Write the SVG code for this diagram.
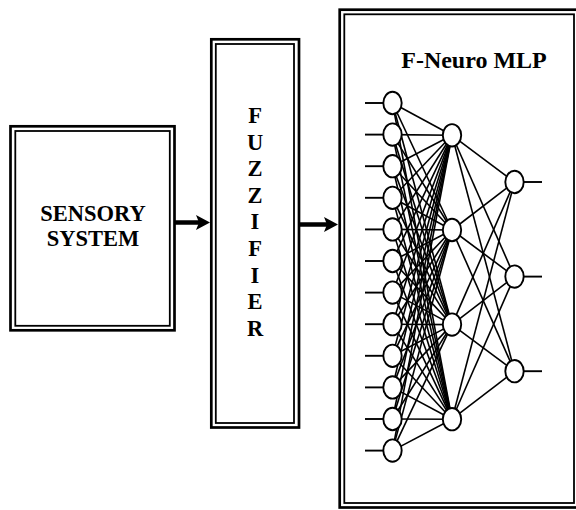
<svg xmlns="http://www.w3.org/2000/svg" width="576" height="510" viewBox="0 0 576 510">
<style>
.outer{fill:none;stroke:#000;stroke-width:2.7}
.inner{fill:none;stroke:#000;stroke-width:1.8}
.lbl{font-family:"Liberation Serif","Times New Roman",serif;font-weight:bold;fill:#000;text-anchor:middle}
.arrow{stroke:#000;stroke-width:4.5;fill:none}
.conn{stroke:#000;stroke-width:1.6}
.stub{stroke:#000;stroke-width:1.9}
.neuron{fill:#fff;stroke:#000;stroke-width:1.9}
</style>
<defs>
<marker id="ah" markerUnits="userSpaceOnUse" markerWidth="14" markerHeight="16" refX="7" refY="7.5" orient="auto" viewBox="0 0 14 15">
<path d="M0,0 L14,7.5 L0,15 L3,7.5 Z" fill="#000"/>
</marker>
</defs>
<rect width="576" height="510" fill="#fff"/>

<g id="sensory">
<rect class="outer" x="10.5" y="126.3" width="164" height="204"/>
<rect class="inner" x="15.3" y="131" width="154.5" height="194.8"/>
<text class="lbl" x="93" y="220.5" font-size="22.5">SENSORY</text>
<text class="lbl" x="93" y="246" font-size="22.5">SYSTEM</text>
</g>

<g id="fuzzifier">
<rect class="outer" x="211.3" y="39.3" width="87.7" height="388.2"/>
<rect class="inner" x="215.8" y="44" width="78.2" height="379"/>
<g class="lbl" font-size="22.5">
<text x="255" y="123">F</text>
<text x="255" y="149.6">U</text>
<text x="255" y="176.2">Z</text>
<text x="255" y="202.8">Z</text>
<text x="255" y="229.4">I</text>
<text x="255" y="256">F</text>
<text x="255" y="282.6">I</text>
<text x="255" y="309.2">E</text>
<text x="255" y="335.8">R</text>
</g>
</g>

<g id="mlp">
<rect class="outer" x="339.7" y="9.7" width="238.8" height="497.8"/>
<rect class="inner" x="344.3" y="14.3" width="229.7" height="488.7"/>
<text class="lbl" x="474" y="68" font-size="24">F-Neuro MLP</text>
</g>

<g id="connectors">
<line class="arrow" x1="175" y1="222.5" x2="203" y2="222.5" marker-end="url(#ah)"/>
<line class="arrow" x1="300" y1="224.5" x2="331" y2="224.5" marker-end="url(#ah)"/>
<g class="stub">
<line x1="365" y1="103" x2="384" y2="103"/>
<line x1="365" y1="134.6" x2="384" y2="134.6"/>
<line x1="365" y1="166.2" x2="384" y2="166.2"/>
<line x1="365" y1="197.8" x2="384" y2="197.8"/>
<line x1="365" y1="229.4" x2="384" y2="229.4"/>
<line x1="365" y1="261" x2="384" y2="261"/>
<line x1="365" y1="292.6" x2="384" y2="292.6"/>
<line x1="365" y1="324.2" x2="384" y2="324.2"/>
<line x1="365" y1="355.8" x2="384" y2="355.8"/>
<line x1="365" y1="387.4" x2="384" y2="387.4"/>
<line x1="365" y1="419" x2="384" y2="419"/>
<line x1="365" y1="450.6" x2="384" y2="450.6"/>
<line x1="523" y1="182" x2="542" y2="182"/>
<line x1="523" y1="276.6" x2="542" y2="276.6"/>
<line x1="523" y1="371.2" x2="542" y2="371.2"/>
</g>
<g class="conn">
<line x1="392.5" y1="103" x2="452" y2="135.3"/><line x1="392.5" y1="103" x2="452" y2="230"/><line x1="392.5" y1="103" x2="452" y2="324.6"/><line x1="392.5" y1="103" x2="452" y2="419.2"/>
<line x1="392.5" y1="134.6" x2="452" y2="135.3"/><line x1="392.5" y1="134.6" x2="452" y2="230"/><line x1="392.5" y1="134.6" x2="452" y2="324.6"/><line x1="392.5" y1="134.6" x2="452" y2="419.2"/>
<line x1="392.5" y1="166.2" x2="452" y2="135.3"/><line x1="392.5" y1="166.2" x2="452" y2="230"/><line x1="392.5" y1="166.2" x2="452" y2="324.6"/><line x1="392.5" y1="166.2" x2="452" y2="419.2"/>
<line x1="392.5" y1="197.8" x2="452" y2="135.3"/><line x1="392.5" y1="197.8" x2="452" y2="230"/><line x1="392.5" y1="197.8" x2="452" y2="324.6"/><line x1="392.5" y1="197.8" x2="452" y2="419.2"/>
<line x1="392.5" y1="229.4" x2="452" y2="135.3"/><line x1="392.5" y1="229.4" x2="452" y2="230"/><line x1="392.5" y1="229.4" x2="452" y2="324.6"/><line x1="392.5" y1="229.4" x2="452" y2="419.2"/>
<line x1="392.5" y1="261" x2="452" y2="135.3"/><line x1="392.5" y1="261" x2="452" y2="230"/><line x1="392.5" y1="261" x2="452" y2="324.6"/><line x1="392.5" y1="261" x2="452" y2="419.2"/>
<line x1="392.5" y1="292.6" x2="452" y2="135.3"/><line x1="392.5" y1="292.6" x2="452" y2="230"/><line x1="392.5" y1="292.6" x2="452" y2="324.6"/><line x1="392.5" y1="292.6" x2="452" y2="419.2"/>
<line x1="392.5" y1="324.2" x2="452" y2="135.3"/><line x1="392.5" y1="324.2" x2="452" y2="230"/><line x1="392.5" y1="324.2" x2="452" y2="324.6"/><line x1="392.5" y1="324.2" x2="452" y2="419.2"/>
<line x1="392.5" y1="355.8" x2="452" y2="135.3"/><line x1="392.5" y1="355.8" x2="452" y2="230"/><line x1="392.5" y1="355.8" x2="452" y2="324.6"/><line x1="392.5" y1="355.8" x2="452" y2="419.2"/>
<line x1="392.5" y1="387.4" x2="452" y2="135.3"/><line x1="392.5" y1="387.4" x2="452" y2="230"/><line x1="392.5" y1="387.4" x2="452" y2="324.6"/><line x1="392.5" y1="387.4" x2="452" y2="419.2"/>
<line x1="392.5" y1="419" x2="452" y2="135.3"/><line x1="392.5" y1="419" x2="452" y2="230"/><line x1="392.5" y1="419" x2="452" y2="324.6"/><line x1="392.5" y1="419" x2="452" y2="419.2"/>
<line x1="392.5" y1="450.6" x2="452" y2="135.3"/><line x1="392.5" y1="450.6" x2="452" y2="230"/><line x1="392.5" y1="450.6" x2="452" y2="324.6"/><line x1="392.5" y1="450.6" x2="452" y2="419.2"/>
<line x1="452" y1="135.3" x2="514.5" y2="182"/><line x1="452" y1="135.3" x2="514.5" y2="276.6"/><line x1="452" y1="135.3" x2="514.5" y2="371.2"/>
<line x1="452" y1="230" x2="514.5" y2="182"/><line x1="452" y1="230" x2="514.5" y2="276.6"/><line x1="452" y1="230" x2="514.5" y2="371.2"/>
<line x1="452" y1="324.6" x2="514.5" y2="182"/><line x1="452" y1="324.6" x2="514.5" y2="276.6"/><line x1="452" y1="324.6" x2="514.5" y2="371.2"/>
<line x1="452" y1="419.2" x2="514.5" y2="182"/><line x1="452" y1="419.2" x2="514.5" y2="276.6"/><line x1="452" y1="419.2" x2="514.5" y2="371.2"/>
</g>
</g>

<g id="input-neurons">
<g id="in1"><ellipse class="neuron" cx="392.5" cy="103" rx="9.2" ry="11.2"/></g>
<g id="in2"><ellipse class="neuron" cx="392.5" cy="134.6" rx="9.2" ry="11.2"/></g>
<g id="in3"><ellipse class="neuron" cx="392.5" cy="166.2" rx="9.2" ry="11.2"/></g>
<g id="in4"><ellipse class="neuron" cx="392.5" cy="197.8" rx="9.2" ry="11.2"/></g>
<g id="in5"><ellipse class="neuron" cx="392.5" cy="229.4" rx="9.2" ry="11.2"/></g>
<g id="in6"><ellipse class="neuron" cx="392.5" cy="261" rx="9.2" ry="11.2"/></g>
<g id="in7"><ellipse class="neuron" cx="392.5" cy="292.6" rx="9.2" ry="11.2"/></g>
<g id="in8"><ellipse class="neuron" cx="392.5" cy="324.2" rx="9.2" ry="11.2"/></g>
<g id="in9"><ellipse class="neuron" cx="392.5" cy="355.8" rx="9.2" ry="11.2"/></g>
<g id="in10"><ellipse class="neuron" cx="392.5" cy="387.4" rx="9.2" ry="11.2"/></g>
<g id="in11"><ellipse class="neuron" cx="392.5" cy="419" rx="9.2" ry="11.2"/></g>
<g id="in12"><ellipse class="neuron" cx="392.5" cy="450.6" rx="9.2" ry="11.2"/></g>
</g>
<g id="hidden-neurons">
<g id="h1"><ellipse class="neuron" cx="452" cy="135.3" rx="9.2" ry="11.2"/></g>
<g id="h2"><ellipse class="neuron" cx="452" cy="230" rx="9.2" ry="11.2"/></g>
<g id="h3"><ellipse class="neuron" cx="452" cy="324.6" rx="9.2" ry="11.2"/></g>
<g id="h4"><ellipse class="neuron" cx="452" cy="419.2" rx="9.2" ry="11.2"/></g>
</g>
<g id="output-neurons">
<g id="o1"><ellipse class="neuron" cx="514.5" cy="182" rx="9.2" ry="11.2"/></g>
<g id="o2"><ellipse class="neuron" cx="514.5" cy="276.6" rx="9.2" ry="11.2"/></g>
<g id="o3"><ellipse class="neuron" cx="514.5" cy="371.2" rx="9.2" ry="11.2"/></g>
</g>
</svg>
